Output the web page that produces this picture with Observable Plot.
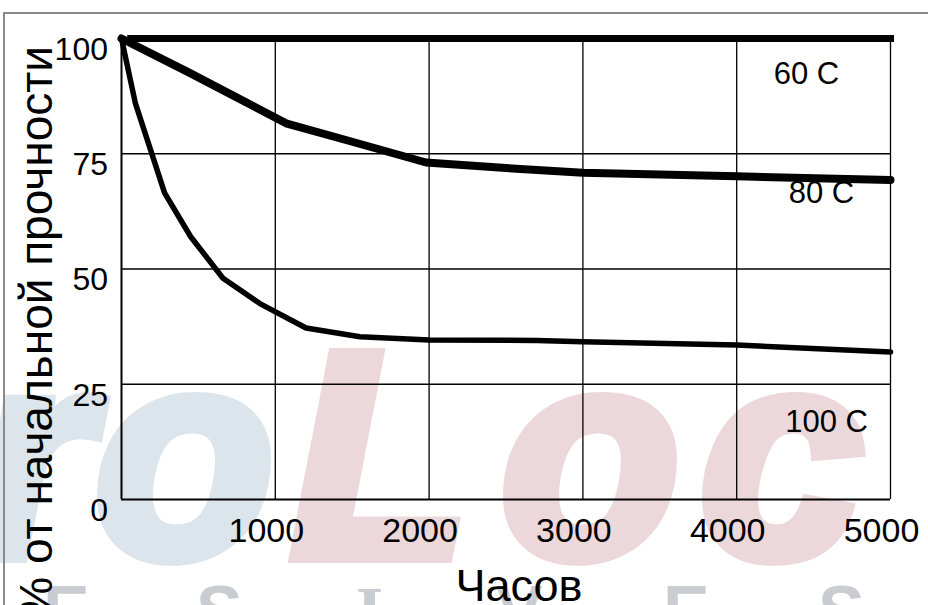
<!DOCTYPE html>
<html>
<head>
<meta charset="utf-8">
<script src="https://cdn.jsdelivr.net/npm/d3@7"></script>
<script src="https://cdn.jsdelivr.net/npm/@observablehq/plot@0.6"></script>
<style>
  html, body { margin: 0; padding: 0; background: #fff; }
  #wrap { position: relative; width: 928px; height: 605px; overflow: hidden; background: #fff; }
  #wm, #chart, #border { position: absolute; left: 0; top: 0; }
  #border { left: 3px; top: 12px; width: 940px; height: 610px; border-left: 2px solid #8a8a8a; border-top: 2px solid #8a8a8a; box-sizing: border-box; }
</style>
</head>
<body>
<div id="wrap">
  <svg id="wm" width="928" height="605" xmlns="http://www.w3.org/2000/svg">
    <g font-family="Liberation Sans, Arial, sans-serif" font-weight="bold" font-style="italic" font-size="292" stroke-width="14" stroke-linejoin="miter" paint-order="stroke">
      <text x="-24" y="556" fill="#dce4ec" stroke="#dce4ec">r</text>
      <text x="95" y="556" fill="#dce4ec" stroke="#dce4ec">o</text>
      <text x="291" y="556" fill="#ecd8da" stroke="#ecd8da">L</text>
      <text x="501" y="556" fill="#ecd8da" stroke="#ecd8da">o</text>
      <text x="700" y="556" fill="#ecd8da" stroke="#ecd8da">c</text>
    </g>
    <g font-family="Liberation Sans, Arial, sans-serif" font-weight="bold" font-size="70" fill="#c9cdd1">
      <text x="43" y="635">E</text>
      <text x="196" y="635">S</text>
      <text x="356" y="635" font-family="Liberation Serif, serif">I</text>
      <text x="496" y="635">V</text>
      <text x="663" y="635">E</text>
      <text x="818" y="635">S</text>
    </g>
  </svg>
  <div id="chart"></div>
  <div id="border"></div>
</div>
<script>
// ---- data ----
const xTicks = [1000, 2000, 3000, 4000, 5000];
const yTicks = [0, 25, 50, 75, 100];

const hours60 = [60, 5000];
const strength60 = [100, 100];

const hours80 = [0, 440, 1070, 1500, 1980, 2500, 3000, 4000, 5000];
const strength80 = [100, 92.6, 81.6, 77.6, 73.1, 71.9, 70.9, 70.1, 69.3];

const hours100 = [0, 90, 280, 450, 660, 900, 1200, 1550, 2000, 2700, 3000, 4000, 5000];
const strength100 = [100, 86, 66.5, 57, 48, 42.5, 37.2, 35.3, 34.6, 34.5, 34.2, 33.5, 32];

const curveLabels = ["60 C", "80 C", "100 C"];
const labelHours = [4453, 4551, 4584];
const labelStrength = [92.3, 66.5, 16.7];

const xTitle = "Часов";
const yTitle = "% от начальной прочности";

// ---- tables built from the arrays ----
const s60 = hours60.map((h, i) => ({h, v: strength60[i]}));
const s80 = hours80.map((h, i) => ({h, v: strength80[i]}));
const s100 = hours100.map((h, i) => ({h, v: strength100[i]}));
const labels = curveLabels.map((t, i) => ({t, h: labelHours[i], v: labelStrength[i]}));

const FONT = "Liberation Sans, Arial, sans-serif";

const chart = Plot.plot({
  width: 928,
  height: 605,
  marginLeft: 121,
  marginRight: 38,
  marginTop: 38,
  marginBottom: 106,
  style: {background: "transparent", fontFamily: FONT, color: "#000", overflow: "visible"},
  x: {domain: [0, 5000]},
  y: {domain: [0, 100]},
  marks: [
    Plot.gridX(xTicks, {stroke: "#000", strokeOpacity: 1, strokeWidth: 1.3}),
    Plot.gridY([25, 50, 75], {stroke: "#000", strokeOpacity: 1, strokeWidth: 1.3}),
    Plot.ruleX([0], {stroke: "#000", strokeWidth: 2}),
    Plot.ruleY([0], {stroke: "#000", strokeWidth: 2}),
    Plot.axisX(xTicks, {tickSize: 0, tickPadding: 18, fontSize: 34, dx: -9, label: null, tickFormat: d => String(d)}),
    Plot.axisY(yTicks, {tickSize: 0, tickPadding: 13.5, fontSize: 32, dy: 11, label: null, tickFormat: d => String(d)}),
    Plot.line(s100, {x: "h", y: "v", stroke: "#000", strokeWidth: 5.5, strokeLinejoin: "round"}),
    Plot.line(s80, {x: "h", y: "v", stroke: "#000", strokeWidth: 8, strokeLinejoin: "round"}),
    Plot.line(s60, {x: "h", y: "v", stroke: "#000", strokeWidth: 7, strokeLinecap: "square"}),
    Plot.text(labels, {x: "h", y: "v", text: "t", fontSize: 31, fill: "#000", textAnchor: "middle"})
  ]
});

// axis titles placed in the chart's own svg
const svg = d3.select(chart);
svg.append("text")
  .attr("transform", "translate(519,601)")
  .attr("text-anchor", "middle")
  .attr("font-family", FONT)
  .attr("font-size", 45)
  .attr("fill", "#000")
  .text(xTitle);
svg.append("text")
  .attr("transform", "translate(52,46) rotate(-90)")
  .attr("text-anchor", "end")
  .attr("font-family", FONT)
  .attr("font-size", 46)
  .attr("fill", "#000")
  .text(yTitle);

document.getElementById("chart").appendChild(chart);
</script>
</body>
</html>
